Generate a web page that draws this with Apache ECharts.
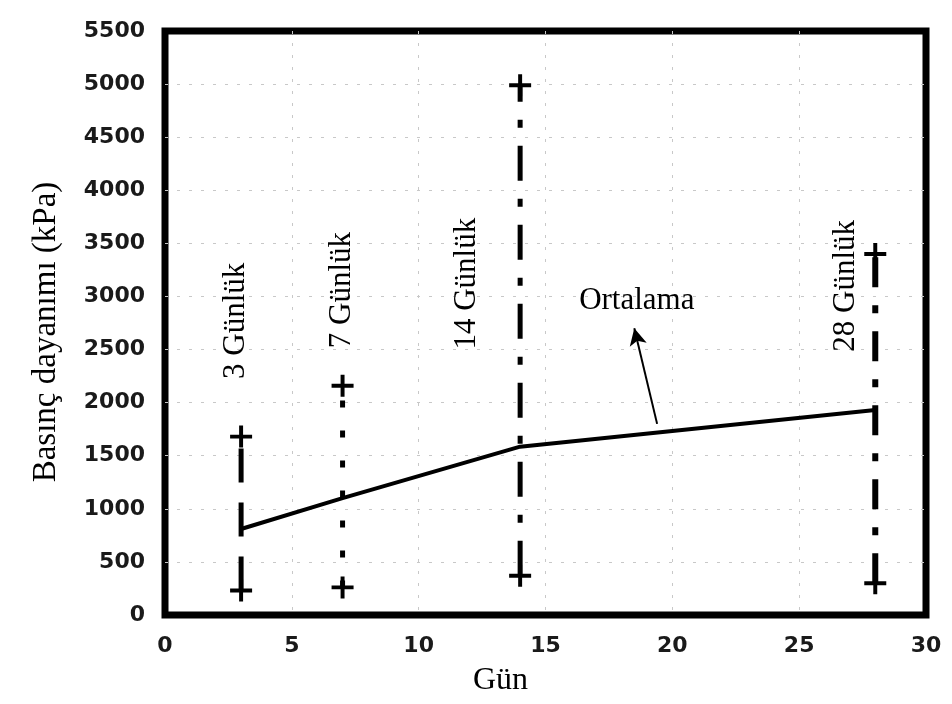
<!DOCTYPE html>
<html>
<head>
<meta charset="utf-8">
<script src="https://cdn.jsdelivr.net/npm/echarts@6/dist/echarts.min.js"></script>
<style>
  html, body { margin: 0; padding: 0; background: #fff; }
  #chart { width: 952px; height: 704px; }
</style>
</head>
<body>
<div id="chart"></div>
<script>
// test ages (days) and strength ranges, kPa
const days = [3, 7, 14, 28];
const minVals = [230, 260, 370, 300];
const maxVals = [1680, 2160, 4990, 3400];
const meanVals = [810, 1100, 1585, 1930];
const dayLabels = ["3 Günlük", "7 Günlük", "14 Günlük", "28 Günlük"];
// where the rotated day labels sit (data coords)
const labelX = [2.8, 6.97, 11.9, 26.85];
const labelY = [2770, 3060, 3120, 3100];
const meanLabel = "Ortalama";
const meanLabelPos = [18.6, 2960];
const arrowFrom = [19.4, 1800];
const arrowTo = [18.5, 2700];

const xTicks = ["0", "5", "10", "15", "20", "25", "30"];
const yTicks = ["0", "500", "1000", "1500", "2000", "2500", "3000", "3500", "4000", "4500", "5000", "5500"];

// dash patterns of each range line, same order as days
const dashes = [[34, 20], [7, 23], [35, 18, 8, 18], [30, 18, 8, 18]];
const widths = [5, 5, 5, 6];

const plus = "path://M0,8.2H20V11.8H0Z M8.2,0H11.8V20H8.2Z";
const serif = "'Liberation Serif', 'Times New Roman', serif";
const sans = "'DejaVu Sans', sans-serif";

const chart = echarts.init(document.getElementById("chart"));

const rangeSeries = days.map((d, i) => ({
  type: "line",
  data: [[d, minVals[i]], [d, maxVals[i]]],
  symbol: plus,
  symbolSize: 22,
  showSymbol: true,
  itemStyle: { color: "#000" },
  lineStyle: { color: "#000", width: widths[i], type: dashes[i] },
  z: 3
}));

const gridLine = {
  show: true,
  showMinLine: false,
  showMaxLine: false,
  lineStyle: { color: "#c8c8c8", width: 1, type: [3, 9] }
};

chart.setOption({
  animation: false,
  backgroundColor: "#fff",
  grid: {
    left: 165, right: 26, top: 31, bottom: 89,
    show: true, borderColor: "#000", borderWidth: 7,
    containLabel: false
  },
  xAxis: {
    type: "value",
    min: 0, max: 30, interval: 5,
    name: "Gün",
    nameLocation: "middle",
    nameGap: 50,
    nameTextStyle: { fontFamily: serif, fontSize: 32, color: "#000", padding: [0, 90, 0, 0] },
    axisLine: { show: false },
    axisTick: { show: false },
    axisLabel: {
      margin: 20, fontFamily: sans, fontSize: 22, fontWeight: "bold", color: "#1a1a1a",
      formatter: v => xTicks[v / 5]
    },
    splitLine: gridLine
  },
  yAxis: {
    type: "value",
    min: 0, max: 5500, interval: 500,
    name: "Basınç dayanımı (kPa)",
    nameLocation: "middle",
    nameGap: 102,
    nameTextStyle: { fontFamily: serif, fontSize: 33, color: "#000", padding: [0, 18, 0, 0] },
    axisLine: { show: false },
    axisTick: { show: false },
    axisLabel: {
      margin: 20, fontFamily: sans, fontSize: 22, fontWeight: "bold", color: "#1a1a1a",
      formatter: v => yTicks[v / 500]
    },
    splitLine: gridLine
  },
  series: rangeSeries.concat([
    {
      type: "line",
      name: meanLabel,
      data: days.map((d, i) => [d, meanVals[i]]),
      symbol: "none",
      lineStyle: { color: "#000", width: 4 },
      z: 4,
      markLine: {
        silent: true,
        symbol: ["none", "arrow"],
        symbolSize: [13, 17],
        label: { show: false },
        lineStyle: { color: "#000", width: 2, type: "solid" },
        data: [[{ coord: arrowFrom }, { coord: arrowTo }]]
      }
    },
    {
      type: "scatter",
      symbolSize: 0,
      data: dayLabels.map((t, i) => ({ name: t, value: [labelX[i], labelY[i]] }))
        .concat([{ name: meanLabel, value: meanLabelPos }]),
      itemStyle: { color: "#000", opacity: 1 },
      label: {
        show: true,
        position: "inside",
        fontFamily: serif,
        fontSize: 31,
        color: "#000",
        opacity: 1,
        textBorderWidth: 0,
        formatter: p => p.name
      },
      labelLayout: p => ({ rotate: p.text === meanLabel ? 0 : 90 }),
      z: 5
    }
  ])
});
</script>
</body>
</html>
